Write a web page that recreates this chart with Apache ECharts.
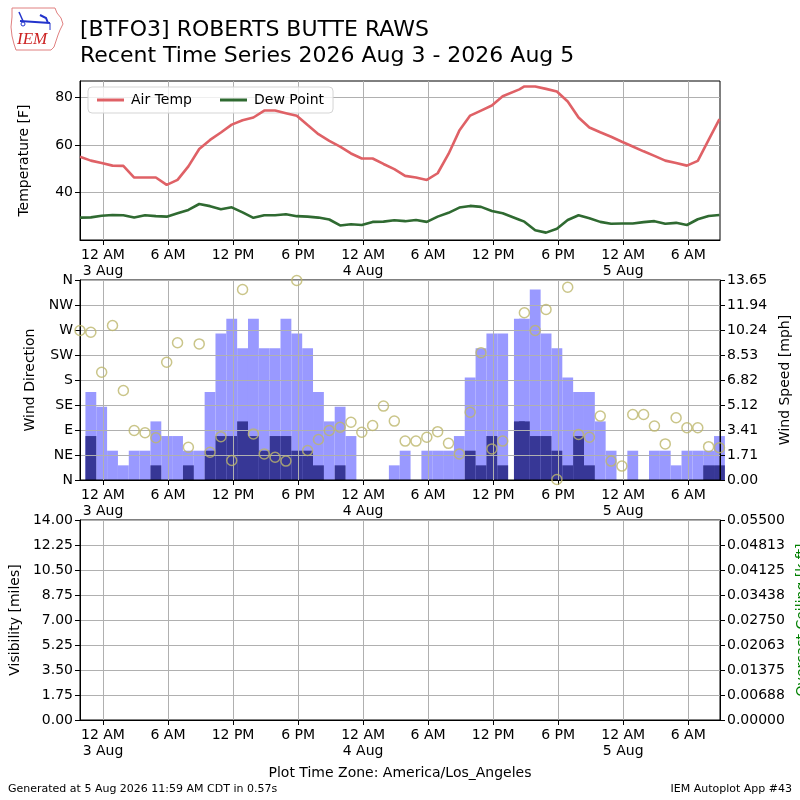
<!DOCTYPE html>
<html>
<head>
<meta charset="utf-8">
<script src="https://cdn.jsdelivr.net/npm/echarts@6/dist/echarts.min.js"></script>
<style>
  html, body { margin: 0; padding: 0; background: #fff; }
  #chart { width: 800px; height: 800px; }
</style>
</head>
<body>
<div id="chart"></div>
<script>
// observation times, hours after 3 Aug 00:00 (America/Los_Angeles)
const obsHours = [-2.12, -1.12, -0.12, 0.88, 1.88, 2.88, 3.88, 4.88, 5.88, 6.88,
  7.88, 8.88, 9.88, 10.88, 11.88, 12.88, 13.88, 14.88, 15.88, 16.88,
  17.88, 18.88, 19.88, 20.88, 21.88, 22.88, 23.88, 24.88, 25.88, 26.88,
  27.88, 28.88, 29.88, 30.88, 31.88, 32.88, 33.88, 34.88, 35.88, 36.88,
  38.42, 38.88, 39.88, 40.88, 41.88, 42.88, 43.88, 44.88, 45.88, 46.88,
  47.88, 48.88, 49.88, 50.88, 51.88, 52.88, 53.88, 54.88, 55.88, 56.88]

const airTemp = [55, 53.4, 52.4, 51.3, 51.2, 46.3, 46.3, 46.3, 43.2, 45.3,
  51, 58.3, 62.1, 65.2, 68.5, 70.3, 71.5, 74.4, 74.4, 73.3,
  72.2, 68.3, 64.5, 61.7, 59.3, 56.4, 54.3, 54.3, 52, 49.8,
  47, 46.3, 45.3, 48.1, 56.2, 66, 72.3, 74.4, 76.5, 80.4,
  83.3, 84.5, 84.5, 83.5, 82.4, 78.2, 71.5, 67.3, 65.3, 63.4,
  61.3, 59.3, 57.3, 55.4, 53.4, 52.4, 51.3, 53.3, 62.1, 70.8]

const dewPoint = [29.5, 29.6, 30.3, 30.6, 30.5, 29.5, 30.5, 30.1, 29.9, 31.3,
  32.7, 35.2, 34.3, 33, 33.8, 31.7, 29.4, 30.5, 30.5, 30.9,
  30.1, 29.9, 29.5, 28.7, 26.2, 26.7, 26.4, 27.7, 27.8, 28.4,
  28, 28.5, 27.7, 29.9, 31.5, 33.7, 34.4, 34, 32.3, 31.3,
  28.6, 27.8, 24.2, 23.2, 24.8, 28.5, 30.5, 29.2, 27.7, 26.9,
  27, 27, 27.6, 28, 26.9, 27.3, 26.4, 28.8, 30.2, 30.6]

// mph
const windGust = [0, 6, 5, 2, 1, 2, 2, 4, 3, 3,
  2, 2, 6, 10, 11, 9, 11, 9, 9, 11,
  10, 9, 6, 4, 5, 3, 0, 0, 0, 1,
  2, 0, 2, 2, 2, 3, 7, 9, 10, 10,
  11, 11, 13, 10, 9, 7, 6, 6, 4, 2,
  0, 2, 0, 2, 2, 1, 2, 2, 2, 3]

const windSpeed = [0, 3, 0, 0, 0, 0, 0, 1, 0, 0,
  1, 0, 2, 3, 3, 4, 3, 2, 3, 3,
  2, 2, 1, 0, 1, 0, 0, 0, 0, 0,
  0, 0, 0, 0, 0, 0, 2, 1, 3, 1,
  4, 4, 3, 3, 2, 1, 3, 1, 0, 0,
  0, 0, 0, 0, 0, 0, 0, 0, 1, 1]

// degrees
const windDir = [269, 266, 194, 278, 161, 89, 85, 76, 212, 247,
  59, 245, 50, 78, 35, 343, 83, 47, 41, 34,
  359, 53, 73, 89, 95, 104, 86, 98, 133, 106,
  70, 70, 77, 87, 66, 47, 122, 229, 56, 70,
  null, 301, 269, 307, 1, 347, 82, 77, 115, 34,
  25, 118, 118, 97, 65, 112, 94, 94, 60, 58]

const tickHours = [0, 6, 12, 18, 24, 30, 36, 42, 48, 54]
const tickLabels = ['12 AM\n3 Aug', '6 AM', '12 PM', '6 PM', '12 AM\n4 Aug',
  '6 AM', '12 PM', '6 PM', '12 AM\n5 Aug', '6 AM']
const tempTicks = [40, 60, 80]
const dirLabels = ['N', 'NE', 'E', 'SE', 'S', 'SW', 'W', 'NW', 'N']
const speedTickLabels = ['0.00', '1.71', '3.41', '5.12', '6.82', '8.53', '10.24', '11.94', '13.65']
const visTickLabels = ['0.00', '1.75', '3.50', '5.25', '7.00', '8.75', '10.50', '12.25', '14.00']
const ceilTickLabels = ['0.00000', '0.00688', '0.01375', '0.02063', '0.02750',
  '0.03438', '0.04125', '0.04813', '0.05500']

const FONT = 'DejaVu Sans'
const GRIDC = '#b0b0b0'

const nearestLabel = (labels) => (v) => {
  let best = 0
  labels.forEach((l, i) => { if (Math.abs(Number(l) - v) < Math.abs(Number(labels[best]) - v)) best = i })
  return labels[best]
}

function timeAxis (idx) {
  return {
    type: 'value',
    gridIndex: idx,
    min: -2.12,
    max: 56.93,
    z: 3,
    axisLine: { show: true, onZero: false, lineStyle: { color: '#000', width: 1 } },
    axisTick: { show: true, length: 5, customValues: tickHours, lineStyle: { color: '#000' } },
    axisLabel: {
      customValues: tickHours,
      margin: 7,
      fontFamily: FONT,
      fontSize: 14,
      lineHeight: 16,
      color: '#000',
      formatter: (v) => tickLabels[tickHours.indexOf(Math.round(v))]
    },
    splitLine: { show: true, lineStyle: { color: GRIDC, width: 1 } }
  }
}

function valAxis (opt) {
  return Object.assign({
    type: 'value',
    z: 3,
    nameLocation: 'middle',
    nameTextStyle: { fontFamily: FONT, fontSize: 14, color: '#000' },
    axisLine: { show: true, onZero: false, lineStyle: { color: '#000', width: 1 } },
    axisTick: { show: true, length: 5, lineStyle: { color: '#000' } },
    splitLine: { show: true, lineStyle: { color: GRIDC, width: 1 } }
  }, opt, {
    axisLabel: Object.assign({ fontFamily: FONT, fontSize: 14, color: '#000', margin: 7 }, opt.axisLabel || {})
  })
}

function panel (top, height) {
  return {
    left: 80, top: top, width: 640, height: height,
    show: true, borderColor: '#000', borderWidth: 1, z: 3,
    backgroundColor: 'transparent',
    outerBoundsMode: 'none', containLabel: false
  }
}

const chart = echarts.init(document.getElementById('chart'), null, { renderer: 'canvas' })

const titleText = (size) => ({ fontFamily: FONT, fontSize: size, fontWeight: 'normal', color: '#000' })

const option = {
  backgroundColor: '#fff',
  animation: false,
  title: [
    { text: '[BTFO3] ROBERTS BUTTE RAWS', left: 80, top: 19, padding: 0, textStyle: titleText(22) },
    { text: 'Recent Time Series 2026 Aug 3 - 2026 Aug 5', left: 80, top: 45, padding: 0, textStyle: titleText(22) },
    { text: 'Plot Time Zone: America/Los_Angeles', left: 'center', top: 766, padding: 0, textStyle: titleText(14) },
    { text: 'Generated at 5 Aug 2026 11:59 AM CDT in 0.57s', left: 8, top: 784, padding: 0, textStyle: titleText(11) },
    { text: 'IEM Autoplot App #43', right: 8, top: 784, padding: 0, textStyle: titleText(11) }
  ],
  graphic: [
    { type: 'polygon', shape: { points: [[12, 8], [55, 8], [57, 13], [61, 18], [63, 24], [60, 30], [58, 35], [56, 41], [54, 47], [51, 50], [16, 50], [14, 44], [12, 36], [11, 27], [12, 17]] },
      style: { fill: 'none', stroke: '#e08080', lineWidth: 1 } },
    { type: 'polyline', shape: { points: [[20, 21], [50, 23]] }, style: { stroke: '#2233cc', lineWidth: 2 } },
    { type: 'polyline', shape: { points: [[19, 12], [23, 21]] }, style: { stroke: '#2233cc', lineWidth: 1.5 } },
    { type: 'polyline', shape: { points: [[40, 15], [46, 18], [48, 23]] }, style: { stroke: '#2233cc', lineWidth: 2 } },
    { type: 'polyline', shape: { points: [[50, 23], [50, 30]] }, style: { stroke: '#2233cc', lineWidth: 1 } },
    { type: 'circle', shape: { cx: 23, cy: 24, r: 2 }, style: { fill: 'none', stroke: '#2233cc', lineWidth: 1 } },
    { type: 'text', left: 17, top: 31, style: { text: 'IEM', fontFamily: 'Liberation Serif', fontStyle: 'italic', fontSize: 17, fill: '#cc2222' } }
  ],
  legend: {
    left: 88,
    top: 87,
    data: ['Air Temp', 'Dew Point'],
    icon: 'rect',
    itemWidth: 27,
    itemHeight: 3,
    itemGap: 28,
    padding: [6, 9, 6, 9],
    backgroundColor: 'rgba(255,255,255,0.8)',
    borderColor: '#d5d5d5',
    borderWidth: 1,
    borderRadius: 4,
    textStyle: { fontFamily: FONT, fontSize: 14, color: '#000', padding: [0, 0, 0, 2], lineHeight: 14 }
  },
  grid: [panel(81, 159), panel(280, 200), panel(520, 200)],
  xAxis: [timeAxis(0), timeAxis(1), timeAxis(2)],
  yAxis: [
    valAxis({ gridIndex: 0, min: 20.1, max: 86.8, name: 'Temperature [F]', nameGap: 49,
      axisTick: { show: true, length: 5, customValues: tempTicks, lineStyle: { color: '#000' } },
      axisLabel: { customValues: tempTicks } }),
    valAxis({ gridIndex: 1, min: 0, max: 360, interval: 45, name: 'Wind Direction', nameGap: 37,
      axisLabel: { formatter: (v) => dirLabels[Math.round(v / 45)] } }),
    valAxis({ gridIndex: 1, position: 'right', min: 0, max: 13.65, name: 'Wind Speed [mph]', nameGap: 53, nameRotate: 90,
      axisTick: { show: true, length: 5, customValues: speedTickLabels.map(Number), lineStyle: { color: '#000' } },
      axisLabel: { customValues: speedTickLabels.map(Number), formatter: nearestLabel(speedTickLabels) },
      splitLine: { show: false } }),
    valAxis({ gridIndex: 2, min: 0, max: 14, interval: 1.75, name: 'Visibility [miles]', nameGap: 53,
      axisLabel: { formatter: nearestLabel(visTickLabels) } }),
    valAxis({ gridIndex: 2, position: 'right', min: 0, max: 0.055, name: 'Overcast Ceiling [k ft]', nameGap: 70, nameRotate: 90,
      nameTextStyle: { fontFamily: FONT, fontSize: 14, color: '#008000' },
      axisTick: { show: true, length: 5, customValues: ceilTickLabels.map(Number), lineStyle: { color: '#000' } },
      axisLabel: { customValues: ceilTickLabels.map(Number), formatter: nearestLabel(ceilTickLabels) },
      splitLine: { show: false } })
  ],
  series: [
    {
      name: 'Air Temp', type: 'line', xAxisIndex: 0, yAxisIndex: 0, z: 5,
      symbol: 'none', data: obsHours.map((t, i) => [t, airTemp[i]]),
      lineStyle: { color: '#df6166', width: 2.6 }, itemStyle: { color: '#df6166' }
    },
    {
      name: 'Dew Point', type: 'line', xAxisIndex: 0, yAxisIndex: 0, z: 5,
      symbol: 'none', data: obsHours.map((t, i) => [t, dewPoint[i]]),
      lineStyle: { color: '#2f6a31', width: 2.6 }, itemStyle: { color: '#2f6a31' }
    },
    {
      name: 'Gust', type: 'bar', xAxisIndex: 1, yAxisIndex: 2, z: 1,
      barWidth: 10.84, barGap: '-100%',
      data: obsHours.map((t, i) => [t, windGust[i]]),
      itemStyle: { color: '#9999ff' }
    },
    {
      name: 'Speed', type: 'bar', xAxisIndex: 1, yAxisIndex: 2, z: 2,
      barWidth: 10.84, barGap: '-100%',
      data: obsHours.map((t, i) => [t, windSpeed[i]]),
      itemStyle: { color: '#373796' }
    },
    {
      name: 'Direction', type: 'scatter', xAxisIndex: 1, yAxisIndex: 1, z: 6,
      symbol: 'circle', symbolSize: 10,
      data: obsHours.map((t, i) => [t, windDir[i]]).filter((d) => d[1] !== null),
      itemStyle: { color: 'rgba(0,0,0,0)', borderColor: '#bdb76b', borderWidth: 1.5 }
    }
  ]
}

chart.setOption(option)
</script>
</body>
</html>
